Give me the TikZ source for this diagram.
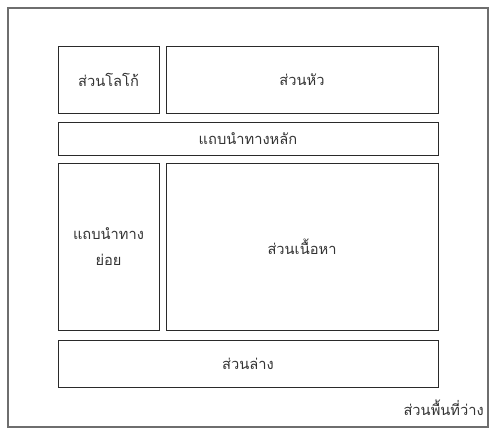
\documentclass[tikz,border=0pt]{standalone}
\usepackage{fontspec}
\newfontfamily\thaifont[Script=Thai]{Loma}
\definecolor{framegray}{HTML}{6E6E6E}
\definecolor{boxline}{HTML}{2A2A2A}
\definecolor{labeltext}{HTML}{333333}
\tikzset{
  region/.style={draw=boxline, line width=0.75pt, inner sep=0pt, font=\thaifont\fontsize{11}{20}\selectfont, text=labeltext, align=center},
}
\begin{document}
\begin{tikzpicture}[x=0.75pt, y=-0.75pt]

% Page area (496 x 433 px)
\useasboundingbox (0,0) rectangle (496,433);

% Outer frame (free space)
\node[draw=framegray, line width=0.9pt, minimum width=360pt, minimum height=314.25pt] (frame) at (248,217.5) {};

% Top row
\node[region, minimum width=75.75pt, minimum height=50.25pt] (logo) at (108.5,79.5) {ส่วนโลโก้};
\node[region, minimum width=204pt, minimum height=50.25pt] (header) at (302,79.5) {ส่วนหัว};

% Main navigation bar
\node[region, minimum width=285pt, minimum height=24.75pt] (mainnav) at (248,138.5) {แถบนำทางหลัก};

% Middle row
\node[region, minimum width=75.75pt, minimum height=125.25pt] (subnav) at (108.5,246.5) {แถบนำทาง\\ย่อย};
\node[region, minimum width=204pt, minimum height=125.25pt] (content) at (302,246.5) {ส่วนเนื้อหา};

% Footer
\node[region, minimum width=285pt, minimum height=35.25pt] (footer) at (248,363.5) {ส่วนล่าง};

% Free space label
\node[font=\thaifont\fontsize{11}{13}\selectfont, text=labeltext, anchor=east, inner sep=0pt] (spacelabel) at (484,408) {ส่วนพื้นที่ว่าง};

\end{tikzpicture}
\end{document}
